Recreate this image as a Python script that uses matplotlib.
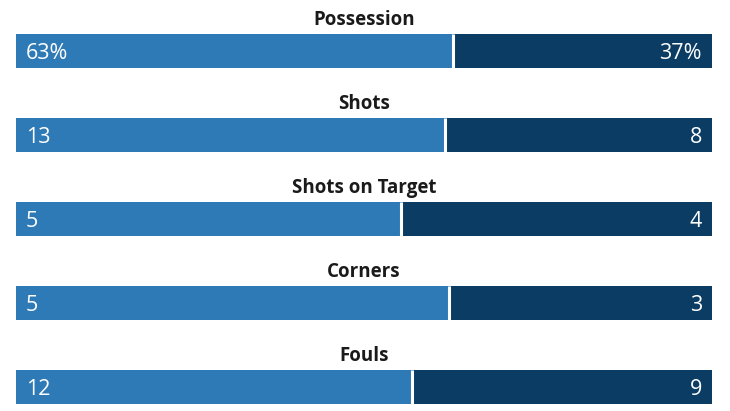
import matplotlib
matplotlib.use("Agg")
import matplotlib.pyplot as plt

stats = ["Possession", "Shots", "Shots on Target", "Corners", "Fouls"]
home_values = [63, 13, 5, 5, 12]
away_values = [37, 8, 4, 3, 9]
home_labels = ["63%", "13", "5", "5", "12"]
away_labels = ["37%", "8", "4", "3", "9"]

home_color = "#2E7AB6"
away_color = "#0A3C64"

W, H = 730, 411
fig = plt.figure(figsize=(W / 100, H / 100), dpi=100)
ax = fig.add_axes([16 / W, 0, 696 / W, 1])
row = 84.0
first = 51.0
ax.set_xlim(0, 1)
ax.set_ylim((H - first) / row, -first / row)
ax.axis("off")

bar_h = 34 / row
for i, (name, h, a, hl, al) in enumerate(zip(stats, home_values, away_values, home_labels, away_labels)):
    share = h / (h + a)
    ax.barh(i, share, left=0, height=bar_h, color=home_color, linewidth=0)
    ax.barh(i, 1 - share, left=share, height=bar_h, color=away_color, linewidth=0)
    ax.plot([share - 1.5 / 696, share - 1.5 / 696], [i - bar_h / 2, i + bar_h / 2],
            color="white", lw=2.2, solid_capstyle="butt")
    ax.text(0.5, i - bar_h / 2 - 9 / row, name, ha="center", va="baseline", fontsize=13.5,
            fontweight="bold", family="Open Sans", color="#1a1a1a")
    ax.text(10 / 696, i + 8 / row, hl, ha="left", va="baseline", fontsize=15.5,
            family="Open Sans", color="white")
    ax.text(1 - 10 / 696, i + 8 / row, al, ha="right", va="baseline", fontsize=15.5,
            family="Open Sans", color="white")

fig.savefig("out.png", dpi=100, facecolor="white")
